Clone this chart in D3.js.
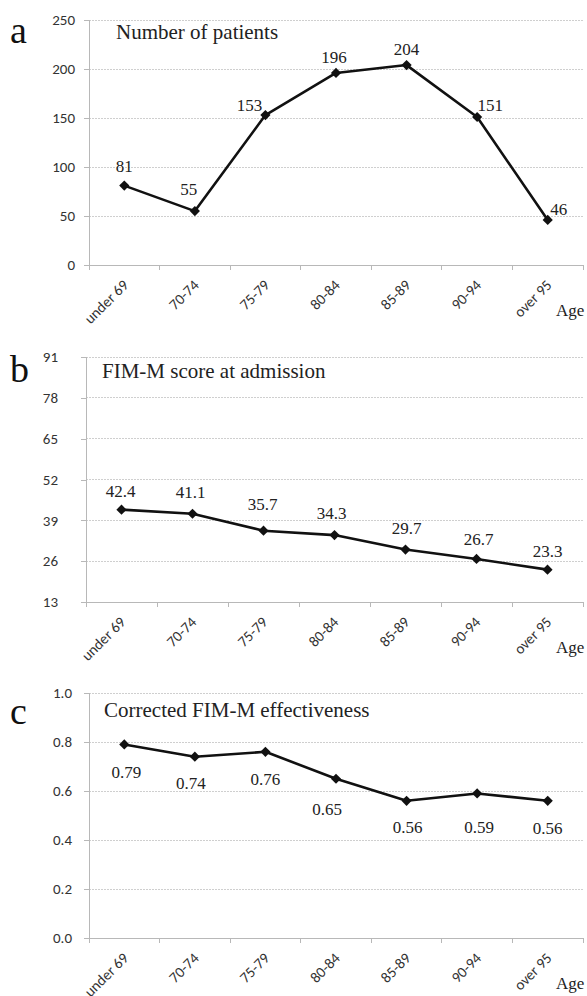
<!DOCTYPE html>
<html><head><meta charset="utf-8">
<script src="https://cdn.jsdelivr.net/npm/d3@7"></script>
<style>
html,body{margin:0;padding:0;background:#fff;}
svg{display:block;}
</style></head>
<body>
<script>
// ---- data ----
const categories = ["under 69","70-74","75-79","80-84","85-89","90-94","over 95"];
const patients = [81, 55, 153, 196, 204, 151, 46];
const fimAdmission = [42.4, 41.1, 35.7, 34.3, 29.7, 26.7, 23.3];
const fimEffectiveness = [0.79, 0.74, 0.76, 0.65, 0.56, 0.59, 0.56];
const patientTicks = [0, 50, 100, 150, 200, 250];
const admissionTicks = [13, 26, 39, 52, 65, 78, 91];
const effectivenessTicks = [0.0, 0.2, 0.4, 0.6, 0.8, 1.0];

// ---- layout (label placement, not data) ----
const panels = [
  {letter:"a", title:"Number of patients", values:patients, ticks:patientTicks, fmt:d3.format("d"),
   left:89, right:583, top:20, bottom:265, labelRight:75, letterY:43, titleX:116, titleY:39,
   off:[[0,-19],[-6,-22],[-16,-10],[-2,-16],[0,-16],[13,-12],[11,-11]]},
  {letter:"b", title:"FIM-M score at admission", values:fimAdmission, ticks:admissionTicks, fmt:d3.format("d"),
   left:86, right:583, top:357, bottom:602, labelRight:58, letterY:382, titleX:102, titleY:378,
   off:[[-1,-18],[-2,-22],[-1,-26],[-3,-22],[1,-21],[2,-20],[0,-18]], labelFmt:d3.format(".1f")},
  {letter:"c", title:"Corrected FIM-M effectiveness", values:fimEffectiveness, ticks:effectivenessTicks, fmt:d3.format(".1f"),
   left:89, right:583, top:693, bottom:938, labelRight:72, letterY:724, titleX:104, titleY:717,
   off:[[2,28],[-4,27],[0,27],[-9,30],[1,26],[2,34],[0,27]], labelFmt:d3.format(".2f")}
];

const W = 587, H = 996;
const svg = d3.select("body").append("svg").attr("width", W).attr("height", H);
const serif = "'Liberation Serif','Times New Roman','DejaVu Serif',serif";
const sans = "Carlito,Calibri,'Liberation Sans',Arial,sans-serif";

panels.forEach(p => {
  const x = d3.scaleBand().domain(categories).range([p.left, p.right]);
  const y = d3.scaleLinear().domain(d3.extent(p.ticks)).range([p.bottom, p.top]);
  const g = svg.append("g");

  // gridlines
  g.selectAll("line.grid").data(p.ticks.slice(1)).join("line")
    .attr("x1", p.left).attr("x2", p.right)
    .attr("y1", d => y(d)).attr("y2", d => y(d))
    .attr("stroke", "#cfcfcf").attr("stroke-width", 1).attr("stroke-dasharray", "2,1")
    .attr("shape-rendering", "crispEdges");

  // y axis
  const ya = g.append("g").attr("transform", `translate(${p.left},0)`)
    .call(d3.axisLeft(y).tickValues(p.ticks).tickFormat(p.fmt).tickSize(5).tickPadding(p.left - p.labelRight - 5));
  ya.select(".domain").attr("stroke", "#b8b8b8").attr("d", `M0,${p.bottom}V${p.top}`);
  ya.selectAll(".tick line").attr("stroke", "#b8b8b8");
  ya.selectAll(".tick text").style("font-family", sans).attr("font-size", 15).attr("fill", "#333");
  ya.attr("shape-rendering", "crispEdges");

  // x axis baseline and boundary ticks
  const xa = g.append("g").attr("shape-rendering", "crispEdges");
  xa.append("line").attr("x1", p.left).attr("x2", p.right).attr("y1", p.bottom).attr("y2", p.bottom).attr("stroke", "#b8b8b8");
  const bounds = categories.map(c => x(c)).concat([p.right]);
  xa.selectAll("line.t").data(bounds).join("line")
    .attr("x1", d => d).attr("x2", d => d).attr("y1", p.bottom).attr("y2", p.bottom + 5).attr("stroke", "#b8b8b8");

  // x labels rotated
  g.selectAll("text.xl").data(categories).join("text")
    .attr("transform", d => `translate(${x(d) + x.bandwidth()/2 + 5},${p.bottom + 21}) rotate(-45)`)
    .attr("text-anchor", "end").style("font-family", sans).attr("font-size", 15).attr("fill", "#333")
    .text(d => d);

  // Age
  g.append("text").attr("x", 556).attr("y", p.bottom + 51).style("font-family", serif).attr("font-size", 17).attr("fill", "#222").text("Age");

  // panel letter and title
  g.append("text").attr("x", 10).attr("y", p.letterY).style("font-family", serif).attr("font-size", 38).attr("fill", "#111").text(p.letter);
  g.append("text").attr("x", p.titleX).attr("y", p.titleY).style("font-family", serif).attr("font-size", 21).attr("fill", "#222").text(p.title);

  // line
  const line = d3.line().x((d, i) => x(categories[i]) + x.bandwidth()/2).y(d => y(d));
  g.append("path").datum(p.values).attr("d", line).attr("fill", "none").attr("stroke", "#111").attr("stroke-width", 2.6).attr("stroke-linejoin", "round");

  // markers
  const sym = d3.symbol(d3.symbolSquare, 52);
  g.selectAll("path.m").data(p.values).join("path")
    .attr("d", sym)
    .attr("transform", (d, i) => `translate(${x(categories[i]) + x.bandwidth()/2},${y(d)}) rotate(45)`)
    .attr("fill", "#111");

  // value labels
  const lf = p.labelFmt || (d => String(d));
  g.selectAll("text.v").data(p.values).join("text")
    .attr("x", (d, i) => x(categories[i]) + x.bandwidth()/2 + p.off[i][0])
    .attr("y", (d, i) => y(d) + p.off[i][1])
    .attr("dy", "0.34em").attr("text-anchor", "middle")
    .style("font-family", serif).attr("font-size", 17).attr("fill", "#222")
    .text(d => lf(d));
});
</script>
</body></html>
